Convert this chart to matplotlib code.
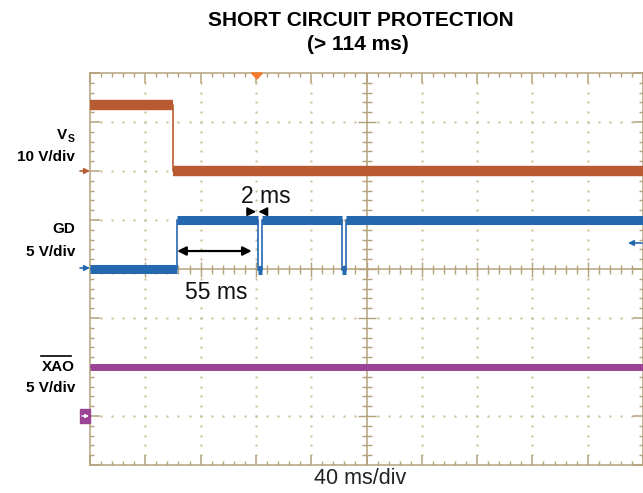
import matplotlib
matplotlib.use("Agg")
import matplotlib.pyplot as plt
import numpy as np
from matplotlib.patches import Polygon, Rectangle
from matplotlib.collections import LineCollection

plt.rcParams['font.family'] = ['Liberation Sans', 'DejaVu Sans']

# ---------------- data ----------------
ms_per_div = 40
t_left = -120
t_right = 280
n_ydiv = 8

# Vs channel, 10 V/div, ground marker at +2 div
vs_edges = [-120, -59.7, 280]
vs_levels = [13.5, 0.0]
vs_scale = 10
vs_offset = 2

# GD channel, 5 V/div, ground marker at 0 div
gd_edges = [-120, -57.3, 1.2, 4.2, 62.1, 65.0, 280]
gd_levels = [0.0, 5.0, -0.1, 5.0, -0.1, 5.0]
gd_scale = 5
gd_offset = 0

# XAO channel, 5 V/div, ground marker at -3 div
xao_edges = [-120, 280]
xao_levels = [5.0]
xao_scale = 5
xao_offset = -3

W, H = 643, 493
TAN = '#B4A27A'
DOT = '#C6B88E'
C_VS = '#B85A32'
C_GD = '#2468B0'
C_XAO = '#9B4496'


def px(x, y):
    return (x / W, 1 - y / H)


fig = plt.figure(figsize=(W / 100, H / 100), dpi=100)
ax = fig.add_axes([90 / W, 28 / H, 553 / W, 392 / H])
ax.set_xlim(t_left, t_right)
ax.set_ylim(-n_ydiv / 2, n_ydiv / 2)

for s in ax.spines.values():
    s.set_color(TAN)
    s.set_linewidth(1.1)

xmaj = np.arange(t_left, t_right + 1, ms_per_div)
xmin = np.arange(t_left, t_right + 0.1, ms_per_div / 5)
ymaj = np.arange(-4, 4.01, 1)
ymin = np.arange(-4, 4.01, 0.2)
ax.set_xticks(xmaj)
ax.set_xticks(xmin, minor=True)
ax.set_yticks(ymaj)
ax.set_yticks(ymin, minor=True)
ax.tick_params(which='both', direction='in', top=True, right=True,
               labelbottom=False, labelleft=False, color=TAN)
ax.tick_params(which='major', length=7, width=1.1)
ax.tick_params(which='minor', length=3.2, width=1.0)

xc = (t_left + t_right) / 2
# dotted grid
for xd in xmaj[1:-1]:
    if xd == xc:
        continue
    yy = ymin[1:-1]
    ax.plot([xd] * len(yy), yy, ls='none', marker='s', ms=1.4, mew=0, color=DOT, zorder=1)
for yd in ymaj[1:-1]:
    if yd == 0:
        continue
    xx = xmin[1:-1]
    ax.plot(xx, [yd] * len(xx), ls='none', marker='s', ms=1.4, mew=0, color=DOT, zorder=1)

# centre cross with ticks
ax.axvline(xc, color=TAN, lw=1.1, zorder=2)
ax.axhline(0, color=TAN, lw=1.1, zorder=2)
segs = []
hy_min, hy_maj = 4.5 / 49, 7.5 / 49
hx_min, hx_maj = 5 / 1.3825, 9 / 1.3825
for x in xmin[1:-1]:
    h = hy_maj if np.isclose(x, xmaj).any() else hy_min
    segs.append([(x, -h), (x, h)])
for y in ymin[1:-1]:
    h = hx_maj if np.isclose(y, ymaj).any() else hx_min
    segs.append([(xc - h, y), (xc + h, y)])
ax.add_collection(LineCollection(segs, colors=TAN, linewidths=1.0, zorder=2))


def draw(edges, levels, scale, offset, color, lw):
    y = [offset + v / scale for v in levels]
    ax.hlines(y, edges[:-1], edges[1:], colors=color, lw=lw, zorder=5,
              capstyle='butt')
    ax.step(edges, y + [y[-1]], where='post', color=color, lw=1.2, zorder=5)


draw(vs_edges, vs_levels, vs_scale, vs_offset, C_VS, 7.5)
draw(gd_edges, gd_levels, gd_scale, gd_offset, C_GD, 6.5)
draw(xao_edges, xao_levels, xao_scale, xao_offset, C_XAO, 5)

# annotations inside scope
ax.annotate('', xy=(-57, 0.367), xytext=(-3, 0.367),
            arrowprops=dict(arrowstyle='<|-|>', color='black', lw=1.6,
                            mutation_scale=13, shrinkA=0, shrinkB=0), zorder=6)
ax.annotate('', xy=(0.2, 1.17), xytext=(-6.5, 1.17),
            arrowprops=dict(arrowstyle='-|>', color='black', lw=1.2,
                            mutation_scale=13, shrinkA=0, shrinkB=0), zorder=6)
ax.annotate('', xy=(1.8, 1.17), xytext=(8, 1.17),
            arrowprops=dict(arrowstyle='-|>', color='black', lw=1.2,
                            mutation_scale=13, shrinkA=0, shrinkB=0), zorder=6)
ax.text(7.3, 1.47, '2 ms', fontsize=16.5, ha='center', va='center', color='#111111', zorder=7)
ax.text(-28.4, -0.48, '55 ms', fontsize=16.5, ha='center', va='center', color='#111111', zorder=7)

# channel / trigger markers
fig.add_artist(Polygon([px(251.5, 73), px(262.5, 73), px(257, 79)], closed=True,
                       transform=fig.transFigure, color='#F47A2F', zorder=8))
for (yy, c) in [(171, C_VS), (268, C_GD)]:
    ax.annotate('', xy=px(90, yy), xytext=px(80, yy), xycoords='figure fraction',
                textcoords='figure fraction',
                arrowprops=dict(arrowstyle='-|>', color=c, lw=1.2, mutation_scale=8,
                                shrinkA=0, shrinkB=0), annotation_clip=False)
ax.add_patch(Rectangle(px(80, 423), 10 / W, 14 / H, transform=fig.transFigure,
                       color=C_XAO, zorder=8, clip_on=False))
ax.annotate('', xy=px(89, 416), xytext=px(82, 416), xycoords='figure fraction',
            textcoords='figure fraction',
            arrowprops=dict(arrowstyle='-|>', color='white', lw=1.0, mutation_scale=5,
                            shrinkA=0, shrinkB=0), annotation_clip=False, zorder=9)
ax.annotate('', xy=px(628, 243), xytext=px(642, 243), xycoords='figure fraction',
            textcoords='figure fraction',
            arrowprops=dict(arrowstyle='-|>', color=C_GD, lw=1.2, mutation_scale=8,
                            shrinkA=0, shrinkB=0), annotation_clip=False)

# titles
fig.text(*px(361, 20), 'SHORT CIRCUIT PROTECTION', fontsize=15, fontweight='bold',
         ha='center', va='center')
fig.text(*px(358, 45), '(> 114 ms)', fontsize=15, fontweight='bold',
         ha='center', va='center')

# left labels
LS = 11
fig.text(*px(67, 135), 'V', fontsize=LS, fontweight='bold', ha='right', va='center')
fig.text(*px(67.5, 139), 'S', fontsize=7.5, fontweight='bold', ha='left', va='center')
fig.text(*px(75, 157), '10 V/div', fontsize=LS, fontweight='bold', ha='right', va='center')
fig.text(*px(75, 229.5), 'GD', fontsize=LS, fontweight='bold', ha='right', va='center')
fig.text(*px(75, 251.5), '5 V/div', fontsize=LS, fontweight='bold', ha='right', va='center')
fig.text(*px(75, 367), 'XAO', fontsize=LS, fontweight='bold', ha='right', va='center')
fig.add_artist(plt.Line2D([41 / W, 71 / W], [1 - 356 / H, 1 - 356 / H],
                          transform=fig.transFigure, color='black', lw=1.2))
fig.text(*px(75, 388.5), '5 V/div', fontsize=LS, fontweight='bold', ha='right', va='center')

fig.text(*px(360, 478), '40 ms/div', fontsize=15.5, ha='center', va='center', color='#222222')

fig.savefig('out.png', dpi=100)
